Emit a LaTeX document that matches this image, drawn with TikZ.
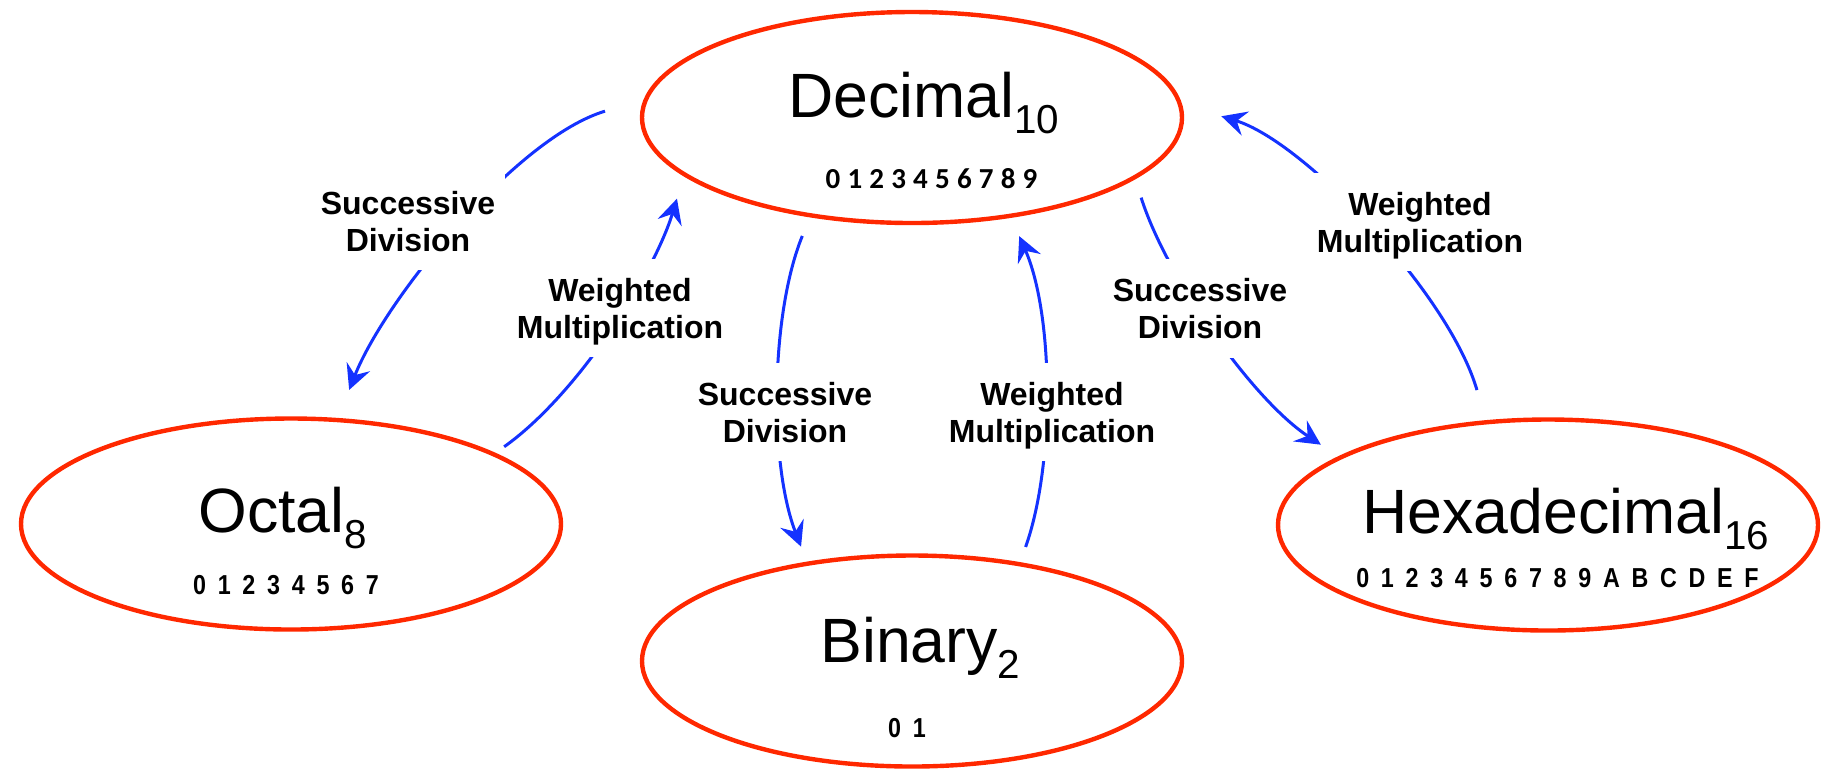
\documentclass[tikz,border=0pt]{standalone}
\usepackage{fontspec}
\usepackage{graphicx}
\setmainfont{Liberation Sans}
\newfontfamily\calfont{Carlito}
\usetikzlibrary{arrows.meta,shapes.geometric}
\definecolor{ellred}{RGB}{255,40,0}
\definecolor{arrblue}{RGB}{20,50,255}
\newcommand{\numsub}[1]{\raisebox{-8.2pt}{\fontsize{20.2pt}{20.2pt}\selectfont #1}}
\newcommand{\narrowdigits}[1]{\scalebox{0.85}[1]{\spaceskip=6.9pt #1}}
\begin{document}
\begin{tikzpicture}[x=0.5pt,y=-0.5pt,
  sysell/.style={ellipse, draw=ellred, line width=2.2pt, minimum width=270pt, minimum height=105.5pt, inner sep=0pt, outer sep=0pt},
  systxt/.style={anchor=base west, inner sep=0pt, font=\fontsize{31.3pt}{31.3pt}\selectfont},
  digs/.style={anchor=base, inner sep=0pt, font={\fontsize{13.7pt}{13.7pt}\selectfont\bfseries}},
  caldigs/.style={anchor=base, inner sep=0pt, font={\calfont\fontsize{14.5pt}{14.5pt}\selectfont\bfseries}},
  conv/.style={draw=arrblue, line width=1.5pt, -{Stealth[length=12.5pt,width=12.5pt,inset=4.5pt]}},
  lbl/.style={fill=white, align=center, inner xsep=5pt, inner ysep=9.5pt, text height=30.1pt, text depth=0pt, font={\fontsize{16pt}{18.5pt}\selectfont\bfseries}}]
\useasboundingbox (0,0) rectangle (1824,768);
% number systems
\node[sysell] (dec) at (912,117.5) {};
\node[sysell] (oct) at (291,524) {};
\node[sysell] (bin) at (912,661) {};
\node[sysell] (hex) at (1548,525) {};
\node[systxt] (dect) at (788,117) {Decimal\numsub{10}};
\node[systxt] (octt) at (198,532) {Octal\numsub{8}};
\node[systxt] (bint) at (820,662) {Binary\numsub{2}};
\node[systxt] (hext) at (1362,533) {Hexadecimal\numsub{16}};
\node[caldigs] (decd) at (931.5,188) {\spaceskip=3.6pt 0 1 2 3 4 5 6 7 8 9};
\node[digs] (octd) at (286,594.5) {\narrowdigits{0 1 2 3 4 5 6 7}};
\node[digs] (bind) at (907,737.5) {\narrowdigits{0 1}};
\node[digs] (hexd) at (1557.5,587) {\narrowdigits{0 1 2 3 4 5 6 7 8 9 A B C D E F}};
% conversions
\draw[conv, shorten <=21.5pt, shorten >=16.2pt] (dec.176.8) .. controls (517.1,137.3) and (385.5,297.8) .. (oct.66.7);
\draw[conv, shorten <=6.5pt, shorten >=12.75pt] (oct.19.45) .. controls (577.3,394.9) and (653.9,274.3) .. (dec.194.6);
\draw[conv, shorten <=11.15pt, shorten >=9.15pt] (dec.224.3) .. controls (770.4,314.2) and (768.8,463.6) .. (bin.137.8);
\draw[conv, shorten <=9.15pt, shorten >=11.15pt] (bin.42.2) .. controls (1055.2,463.6) and (1053.6,314.2) .. (dec.315.7);
\draw[conv, shorten <=10.75pt, shorten >=11.7pt] (dec.345.3) .. controls (1166.2,276.9) and (1252.3,399.5) .. (hex.162.2);
\draw[conv, shorten <=16.8pt, shorten >=21.85pt] (hex.121.5) .. controls (1449.2,294.3) and (1304.8,141.7) .. (dec.3.65);
% labels
\node[lbl] (l1) at (408,221) {Successive\\Division};
\node[lbl] (l2) at (620,308) {Weighted\\Multiplication};
\node[lbl] (l3) at (785,412) {Successive\\Division};
\node[lbl] (l4) at (1052,412) {Weighted\\Multiplication};
\node[lbl] (l5) at (1200,308.5) {Successive\\Division};
\node[lbl] (l6) at (1420,222) {Weighted\\Multiplication};
\end{tikzpicture}
\end{document}
